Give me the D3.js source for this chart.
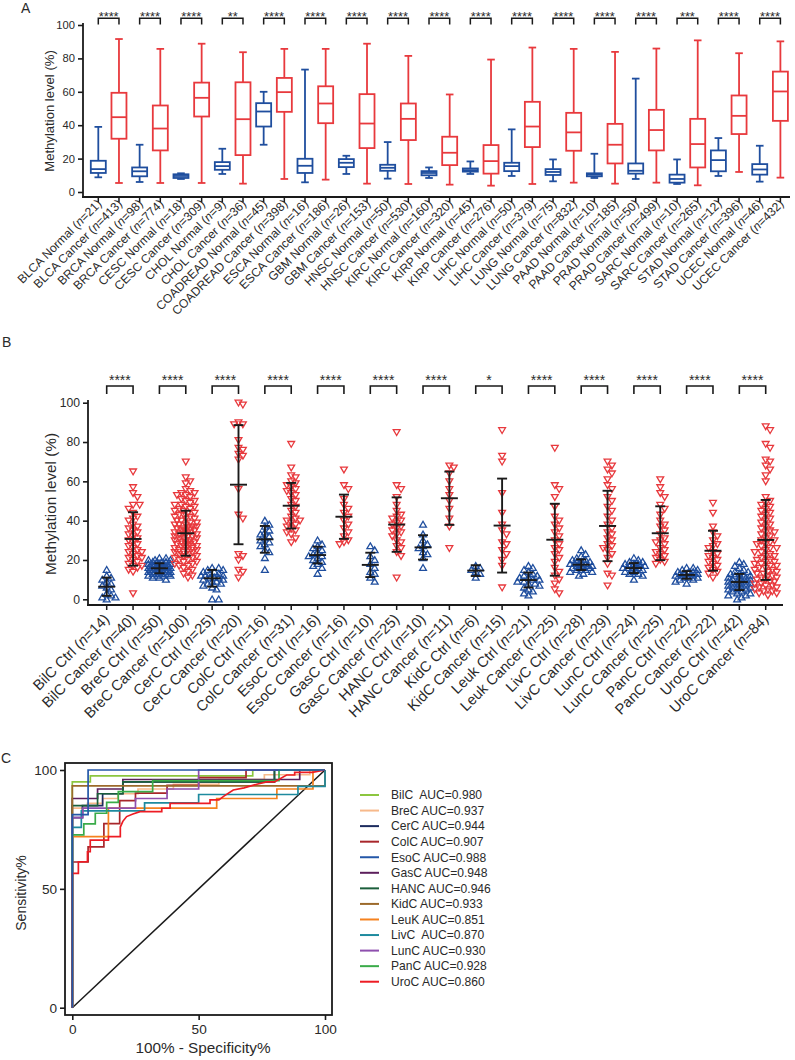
<!DOCTYPE html>
<html><head><meta charset="utf-8">
<script src="https://cdn.jsdelivr.net/npm/d3@7"></script>
<style>
body{margin:0;background:#fff;}
svg{display:block;font-family:"Liberation Sans",Arial,Helvetica,sans-serif;}
</style></head><body>
<svg id="chart" width="795" height="1060"></svg>
<script>
// ---------------- Panel A data ----------------
const typesA = ["BLCA","BRCA","CESC","CHOL","COADREAD","ESCA","GBM","HNSC","KIRC","KIRP","LIHC","LUNG","PAAD","PRAD","SARC","STAD","UCEC"];
const nNormalA = [21,98,18,9,45,16,26,50,160,45,50,75,10,50,10,12,46];
const nCancerA = [413,774,309,36,398,186,153,530,320,276,379,832,185,499,265,396,432];
const sigA = ["****","****","****","**","****","****","****","****","****","****","****","****","****","****","***","****","****"];
const normalMin = [8.8,6,7.8,10.8,28.3,5.8,10.8,8,8.4,10.8,9.6,6.4,8.4,7.8,4.8,9.6,6.2];
const normalQ1  = [11.4,9.4,8.4,13.3,39.2,11.4,14.9,12.7,10,12.2,12.5,10.2,9.4,11,5.6,12.4,10.4];
const normalMed = [13.7,12.4,9.6,15.5,48.2,15.7,17.5,14.5,11.4,13.1,15.5,12,10.4,12.7,7.8,19.1,13.5];
const normalQ3  = [18.7,14.7,10.6,17.9,53.2,19.9,19.7,16.3,12.5,14.1,17.5,13.7,11.2,17.1,10.4,24.9,16.7];
const normalMax = [39,28.3,11.2,25.9,60,73.3,21.7,29.9,14.7,18.3,37.5,19.5,22.9,67.9,19.5,32.3,27.7];
const cancerMin = [5.4,5.4,5.4,5,7.8,7.4,5,4.8,4.4,3.8,4.8,5.6,5,5.6,4,12,8.6];
const cancerQ1  = [31.9,24.9,45.2,22.1,48,41.2,26.3,31.1,16.1,11,26.9,24.7,17.1,24.9,14.7,34.7,42.6];
const cancerMed = [44.8,38,56.4,43.6,59.8,53,41,43.8,23.5,18.5,39.2,35.7,28.3,37.1,28.7,45.6,60.2];
const cancerQ3  = [59.4,51.8,65.5,65.7,68.3,63.3,58.6,53,33.1,28.1,54,47.4,40.8,49.2,43.8,57.8,72.1];
const cancerMax = [91.6,85.7,88.8,83.7,85.7,85.7,88.8,81.5,58.4,79.3,86.5,85.7,83.9,85.9,90.8,83.1,90.2];
const ticksA = [0,20,40,60,80,100];

// ---------------- Panel B data ----------------
const typesB = ["BilC","BreC","CerC","ColC","EsoC","GasC","HANC","KidC","Leuk","LivC","LunC","PanC","UroC"];
const nCtrlB = [14,50,25,16,16,10,10,6,21,28,24,22,42];
const nCancerB = [40,100,20,31,16,25,11,15,25,29,25,22,84];
const sigB = ["****","****","****","****","****","****","****","*","****","****","****","****","****"];
const meanCtrlB = [6.4,15.8,10.7,30.5,22.5,17.5,26.4,14.6,9.8,17.6,15.9,12.4,8.8];
const sdCtrlB = [4.65,2.55,4.25,6.8,4.25,6.2,6.2,2.75,3.8,2.7,2.55,1.95,4.1];
const meanCancerB = [30.7,33.6,58.3,47.6,42,38,51.4,37.5,30.3,37.3,33.6,24.7,30.2];
const sdCancerB = [13.6,11.45,30.3,11.6,11.25,13.85,13.55,23.9,18.3,17.9,13.7,10.15,20.35];
const bilcCtrl = [0,1,1,2,3,5,6,7,8,9,10,11,12,15];
const bilcCancer = [3,14,15,16,17,17,18,19,20,21,21,22,23,24,24,25,26,27,28,29,30,31,32,33,34,35,36,37,38,40,41,42,44,46,48,48,52,54,57,65];
const brecCtrl = [10,11,11,12,12,12,13,13,13,13,14,14,14,14,14,15,15,15,15,15,15,16,16,16,16,16,16,16,17,17,17,17,17,17,18,18,18,18,18,19,19,19,19,20,20,20,21,21,12,16];
const brecCancer = [11,12,13,14,15,16,17,17,18,18,19,19,20,20,21,21,22,22,23,23,24,24,24,25,25,25,26,26,26,27,27,27,28,28,28,29,29,29,30,30,30,31,31,31,32,32,32,33,33,33,34,34,34,35,35,35,36,36,36,37,37,37,38,38,38,39,39,40,40,41,41,42,42,43,43,44,44,45,45,46,46,47,47,48,48,49,50,50,51,52,53,53,54,54,55,56,59,60,62,70];
const cercCtrl = [0,0,5,6,7,8,8,9,9,10,10,11,11,11,12,12,12,13,13,14,14,15,15,16,16];
const cercCancer = [100,99,90,89,89,81,77,76,74,73,71,56,43,41,22,20,15,14,11,23];
const colcCtrl = [15,21,24,25,27,28,29,30,31,32,33,34,35,37,38,40];
const colcCancer = [29,31,33,34,35,36,37,38,39,40,40,41,42,44,45,47,48,50,51,53,54,55,56,57,58,59,60,62,63,67,79];
const esocCtrl = [13,16,17,18,19,20,21,22,22,23,24,25,26,27,28,30];
const esocCancer = [28,29,30,32,34,36,38,40,42,44,46,48,51,56,58,66];
const gascCtrl = [9,11,13,14,16,18,20,22,25,27];
const gascCancer = [11,22,24,26,27,29,30,32,33,34,35,36,37,38,39,40,41,42,43,45,48,52,56,58,85];
const hancCtrl = [16,21,23,24,26,27,28,30,33,38];
const hancCancer = [26,37,41,46,50,53,56,60,64,67,68];
const kidcCtrl = [11,13,14,15,16,17];
const kidcCancer = [6,17,20,23,25,28,29,33,38,35,44,54,70,73,86];
const leukCtrl = [2,3,4,5,6,7,8,8,9,9,10,10,11,11,12,12,13,14,15,16,17];
const leukCancer = [3,5,8,10,12,14,16,19,21,23,25,26,28,30,32,34,36,38,40,42,47,52,56,58,77];
const livcCtrl = [12,13,14,14,15,15,15,16,16,16,16,17,17,17,17,18,18,18,18,19,19,19,20,20,21,22,23,25];
const livcCancer = [7,12,13,18,21,23,25,26,27,28,30,31,33,34,36,38,40,42,45,47,50,52,56,58,61,64,66,68,70];
const luncCtrl = [10,12,13,13,14,14,15,15,15,16,16,16,16,17,17,17,17,18,18,18,19,19,20,21];
const luncCancer = [18,19,20,21,22,23,24,25,26,28,29,30,31,33,35,37,38,40,43,46,48,52,54,57,61];
const pancCtrl = [8,9,10,10,11,11,11,12,12,12,12,13,13,13,13,14,14,14,15,15,16,16];
const pancCancer = [11,13,14,15,16,17,18,19,20,21,22,23,24,26,27,28,30,32,34,37,44,49];
const urocCtrl = [0,1,2,2,3,3,4,4,5,5,5,6,6,6,7,7,7,8,8,8,8,9,9,9,10,10,10,11,11,11,12,12,12,13,13,14,14,15,16,17,18,19];
const urocCancer = [88,86,79,77,71,70,68,66,63,60,52,50,49,48,47,46,45,44,43,42,41,40,39,38,37,36,35,34,34,33,32,31,30,30,29,28,28,27,26,26,25,24,24,23,22,22,21,20,20,19,19,18,18,17,17,16,16,15,15,14,14,13,13,12,12,11,11,10,10,9,9,8,8,7,7,6,6,5,5,4,4,3,3,2];
const ctrlValuesB = [bilcCtrl,brecCtrl,cercCtrl,colcCtrl,esocCtrl,gascCtrl,hancCtrl,kidcCtrl,leukCtrl,livcCtrl,luncCtrl,pancCtrl,urocCtrl];
const cancerValuesB = [bilcCancer,brecCancer,cercCancer,colcCancer,esocCancer,gascCancer,hancCancer,kidcCancer,leukCancer,livcCancer,luncCancer,pancCancer,urocCancer];

// ---------------- Panel C data ----------------
const rocNames = ["BilC","BreC","CerC","ColC","EsoC","GasC","HANC","KidC","LeuK","LivC","LunC","PanC","UroC"];
const rocLabels = ["BilC  AUC=0.980","BreC AUC=0.937","CerC AUC=0.944","ColC AUC=0.907","EsoC AUC=0.988","GasC AUC=0.948","HANC AUC=0.946","KidC AUC=0.933","LeuK AUC=0.851","LivC  AUC=0.870","LunC AUC=0.930","PanC AUC=0.928","UroC AUC=0.860"];
const rocColors = ["#8cc63f","#f7b98b","#1c2b5e","#a8262b","#2457a8","#5c1f5c","#1b5e3b","#9c6a2b","#f5821f","#1e8a9e","#8e4fae","#3aab49","#ed1c24"];
const rocBilC = [[0,0],[0,95],[7.14,95],[7.14,97.5],[71.4,97.5],[71.4,100],[100,100]];
const rocBreC = [[0,0],[0,84],[6,84],[6,86],[12,86],[12,88],[18,88],[18,90],[26,90],[26,92],[40,92],[40,94],[58,94],[58,96],[76,96],[76,98],[94,98],[94,100],[100,100]];
const rocCerC = [[0,0],[0,80],[4,80],[4,85],[12,85],[12,90],[20,90],[20,95],[80,95],[80,100],[100,100]];
const rocColC = [[0,0],[0,61.3],[6.25,61.3],[6.25,67.7],[12.5,67.7],[12.5,77.4],[18.75,77.4],[18.75,87.1],[25,87.1],[25,90.3],[37.5,90.3],[37.5,93.5],[50,93.5],[50,96.8],[68.75,96.8],[68.75,100],[100,100]];
const rocEsoC = [[0,0],[0,81.25],[6.25,81.25],[6.25,100],[100,100]];
const rocGasC = [[0,0],[0,88],[10,88],[10,92],[20,92],[20,96],[90,96],[90,100],[100,100]];
const rocHANC = [[0,0],[0,85],[10,85],[10,90],[20,90],[20,95],[80,95],[80,100],[100,100]];
const rocKidC = [[0,0],[0,93.3],[100,93.3],[100,100]];
const rocLeuK = [[0,0],[0,72],[14.29,72],[14.29,84],[57.14,84],[57.14,88],[80.95,88],[80.95,92],[95.24,92],[95.24,100],[100,100]];
const rocLivC = [[0,0],[0,75.9],[3.57,75.9],[3.57,82.8],[28.6,82.8],[28.6,86.2],[50,86.2],[50,89.7],[89.3,89.7],[89.3,93.1],[100,93.1],[100,100]];
const rocLunC = [[0,0],[0,80],[4.17,80],[4.17,84],[25,84],[25,88],[37.5,88],[37.5,92],[50,92],[50,100],[100,100]];
const rocPanC = [[0,0],[0,72.7],[4.55,72.7],[4.55,77.3],[9.09,77.3],[9.09,81.8],[13.6,81.8],[13.6,86.4],[18.2,86.4],[18.2,90.9],[31.8,90.9],[31.8,95.5],[81.8,95.5],[81.8,100],[100,100]];
const rocUroC = [[0,0],[0,56.5],[2.4,56.5],[2.4,61.4],[6,61.4],[6,65.6],[7.1,65.6],[7.1,70.5],[14.3,70.5],[14.3,72],[19,72],[19,76],[20,78.4],[21.5,80.4],[24,81.5],[26.8,82.5],[35.4,82.5],[35.4,83.9],[38.7,83.9],[38.7,86],[54.5,86],[54.5,87.4],[58,87.4],[60,89],[63.7,91.6],[68,92.5],[73,94],[76.9,95],[80,95],[84.8,97.9],[88,97.9],[88,99],[95,99],[100,100]];
const rocData = [rocBilC,rocBreC,rocCerC,rocColC,rocEsoC,rocGasC,rocHANC,rocKidC,rocLeuK,rocLivC,rocLunC,rocPanC,rocUroC];

// ---------------- drawing ----------------
const svg = d3.select("#chart");
const BLUE = "#1f4e9e", RED = "#e8393d", INK = "#1a1a1a", TXT = "#2a2a2a";
const FONT = "Liberation Sans, Arial, sans-serif";

function panelLetter(t, x, y){ svg.append("text").attr("x",x).attr("y",y).attr("font-size",14).attr("fill",TXT).text(t); }

function xLabel(g, x, y, main, n, fs){
  const t = g.append("text").attr("transform",`translate(${x},${y}) rotate(-45)`)
    .attr("text-anchor","end").attr("font-size",fs).attr("fill",TXT);
  t.append("tspan").text(main + " (");
  t.append("tspan").attr("font-style","italic").text("n");
  t.append("tspan").text("=" + n + ")");
}

// ===== Panel A =====
panelLetter("A", 21, 13);
const labelsA = [];
typesA.forEach((t,i)=>{ labelsA.push(t+" Normal"); labelsA.push(t+" Cancer"); });
const xA = d3.scalePoint().domain(labelsA).range([98.3, 780.4]);
const yA = d3.scaleLinear().domain([0,100]).range([192,25]);
const gA = svg.append("g");
const axA = gA.append("g").attr("transform","translate(83,0)")
  .call(d3.axisLeft(yA).tickValues(ticksA).tickSize(5).tickPadding(3));
axA.select(".domain").remove();
axA.selectAll("line").attr("stroke",INK).attr("stroke-width",1.6);
axA.selectAll("text").attr("font-size",11.2).attr("fill",TXT).attr("font-family",FONT);
gA.append("line").attr("x1",83).attr("x2",83).attr("y1",23).attr("y2",197).attr("stroke",INK).attr("stroke-width",1.8);
gA.append("line").attr("x1",82).attr("x2",790).attr("y1",197).attr("y2",197).attr("stroke",INK).attr("stroke-width",1.8);
labelsA.forEach(l=>{
  gA.append("line").attr("x1",xA(l)).attr("x2",xA(l)).attr("y1",197).attr("y2",202).attr("stroke",INK).attr("stroke-width",1.5);
});
gA.append("text").attr("transform","translate(54,111) rotate(-90)").attr("text-anchor","middle")
  .attr("font-size",13.1).attr("fill",TXT).text("Methylation level (%)");
function drawBox(g, x, stats, color, yS){
  const [mn,q1,md,q3,mx] = stats;
  const bw = 7.5, cw = 3.8;
  const s = g.append("g").attr("stroke",color).attr("stroke-width",1.8).attr("fill","none");
  s.append("line").attr("x1",x).attr("x2",x).attr("y1",yS(mx)).attr("y2",yS(q3));
  s.append("line").attr("x1",x).attr("x2",x).attr("y1",yS(q1)).attr("y2",yS(mn));
  s.append("line").attr("x1",x-cw).attr("x2",x+cw).attr("y1",yS(mx)).attr("y2",yS(mx));
  s.append("line").attr("x1",x-cw).attr("x2",x+cw).attr("y1",yS(mn)).attr("y2",yS(mn));
  s.append("rect").attr("x",x-bw).attr("width",2*bw).attr("y",yS(q3)).attr("height",Math.max(0.5,yS(q1)-yS(q3)));
  s.append("line").attr("x1",x-bw).attr("x2",x+bw).attr("y1",yS(md)).attr("y2",yS(md));
}
typesA.forEach((t,i)=>{
  const xn = xA(t+" Normal"), xc = xA(t+" Cancer");
  drawBox(gA, xn, [normalMin[i],normalQ1[i],normalMed[i],normalQ3[i],normalMax[i]], BLUE, yA);
  drawBox(gA, xc, [cancerMin[i],cancerQ1[i],cancerMed[i],cancerQ3[i],cancerMax[i]], RED, yA);
  gA.append("path").attr("d",`M${xn},24.5V18.3H${xc}V24.5`).attr("fill","none").attr("stroke",INK).attr("stroke-width",1.5);
  gA.append("text").attr("x",(xn+xc)/2).attr("y",21).attr("text-anchor","middle").attr("font-size",12.8).attr("fill",TXT).text(sigA[i]);
  xLabel(gA, xn+4, 204.5, t+" Normal", nNormalA[i], 12.2);
  xLabel(gA, xc+4, 204.5, t+" Cancer", nCancerA[i], 12.2);
});

// ===== Panel B =====
panelLetter("B", 2, 347);
const labelsB = [];
typesB.forEach(t=>{ labelsB.push(t+" Ctrl"); labelsB.push(t+" Cancer"); });
const xB = d3.scalePoint().domain(labelsB).range([106.7, 765.7]);
const yB = d3.scaleLinear().domain([0,100]).range([599.3,402.7]);
const gB = svg.append("g");
const axB = gB.append("g").attr("transform","translate(88,0)")
  .call(d3.axisLeft(yB).tickValues(ticksA).tickSize(5).tickPadding(3));
axB.select(".domain").remove();
axB.selectAll("line").attr("stroke",INK).attr("stroke-width",1.6);
axB.selectAll("text").attr("font-size",12.2).attr("fill",TXT).attr("font-family",FONT);
gB.append("line").attr("x1",88).attr("x2",88).attr("y1",400).attr("y2",605).attr("stroke",INK).attr("stroke-width",1.8);
gB.append("line").attr("x1",87).attr("x2",783).attr("y1",605).attr("y2",605).attr("stroke",INK).attr("stroke-width",1.8);
labelsB.forEach(l=>{
  gB.append("line").attr("x1",xB(l)).attr("x2",xB(l)).attr("y1",605).attr("y2",610).attr("stroke",INK).attr("stroke-width",1.5);
});
gB.append("text").attr("transform","translate(56,504) rotate(-90)").attr("text-anchor","middle")
  .attr("font-size",15.3).attr("fill",TXT).text("Methylation level (%)");

function swarm(vals, yS, r, step, maxOff){
  const pts = vals.map(v=>({v, y:yS(v)})).sort((a,b)=>a.y-b.y);
  const placed = [];
  pts.forEach(p=>{
    let found = null, alt = 0, altScore = -1;
    const kmax = Math.floor(maxOff/step);
    outer:
    for(let k=0;k<=kmax;k++){
      const cands = k===0 ? [0] : [k*step, -k*step];
      for(const dx of cands){
        let minD = Infinity;
        for(const q of placed){
          if(Math.abs(q.y-p.y) < r){ const d = Math.hypot(q.dx-dx, q.y-p.y); if(d<minD) minD=d; }
        }
        if(minD >= r){ found = dx; break outer; }
        if(minD > altScore){ altScore = minD; alt = dx; }
      }
    }
    p.dx = found!==null ? found : alt;
    placed.push(p);
  });
  return pts;
}
const triUp = "M0,-3.3L3.4,2.5L-3.4,2.5Z";
const triDown = "M0,3.3L3.4,-2.5L-3.4,-2.5Z";
function drawGroup(x, vals, mean, sd, color, shape){
  const pts = swarm(vals, yB, 4.6, 2.2, 11);
  gB.append("g").selectAll("path").data(pts).join("path")
    .attr("d",shape).attr("transform",d=>`translate(${x+d.dx},${d.y})`)
    .attr("fill","none").attr("stroke",color).attr("stroke-width",1.3);
  const e = gB.append("g").attr("stroke",INK).attr("stroke-width",1.9);
  e.append("line").attr("x1",x).attr("x2",x).attr("y1",yB(mean+sd)).attr("y2",yB(Math.max(0,mean-sd)));
  e.append("line").attr("x1",x-5).attr("x2",x+5).attr("y1",yB(mean+sd)).attr("y2",yB(mean+sd));
  e.append("line").attr("x1",x-5).attr("x2",x+5).attr("y1",yB(Math.max(0,mean-sd))).attr("y2",yB(Math.max(0,mean-sd)));
  e.append("line").attr("x1",x-8.5).attr("x2",x+8.5).attr("y1",yB(mean)).attr("y2",yB(mean));
}
typesB.forEach((t,i)=>{
  const xn = xB(t+" Ctrl"), xc = xB(t+" Cancer");
  drawGroup(xn, ctrlValuesB[i], meanCtrlB[i], sdCtrlB[i], BLUE, triUp);
  drawGroup(xc, cancerValuesB[i], meanCancerB[i], sdCancerB[i], RED, triDown);
  gB.append("path").attr("d",`M${xn},394V386H${xc}V394`).attr("fill","none").attr("stroke",INK).attr("stroke-width",1.6);
  gB.append("text").attr("x",(xn+xc)/2).attr("y",385).attr("text-anchor","middle").attr("font-size",14).attr("fill",TXT).text(sigB[i]);
  xLabel(gB, xn+3.5, 620, t+" Ctrl", nCtrlB[i], 14.7);
  xLabel(gB, xc+3.5, 620, t+" Cancer", nCancerB[i], 14.7);
});

// ===== Panel C =====
panelLetter("C", 1, 763);
const xC = d3.scaleLinear().domain([0,100]).range([72.3,325]);
const yC = d3.scaleLinear().domain([0,100]).range([1007.7,770]);
const gC = svg.append("g");
const axCx = gC.append("g").attr("transform","translate(0,1015)")
  .call(d3.axisBottom(xC).tickValues([0,50,100]).tickSize(5).tickPadding(4));
axCx.select(".domain").remove();
axCx.selectAll("line").attr("stroke",INK).attr("stroke-width",1.6);
axCx.selectAll("text").attr("font-size",13.6).attr("fill",TXT).attr("font-family",FONT);
const axCy = gC.append("g").attr("transform","translate(65,0)")
  .call(d3.axisLeft(yC).tickValues([0,50,100]).tickSize(5).tickPadding(3));
axCy.select(".domain").remove();
axCy.selectAll("line").attr("stroke",INK).attr("stroke-width",1.6);
axCy.selectAll("text").attr("font-size",13.6).attr("fill",TXT).attr("font-family",FONT);
gC.append("rect").attr("x",65).attr("y",763).attr("width",267).attr("height",252).attr("fill","none").attr("stroke",INK).attr("stroke-width",1.8);
gC.append("text").attr("transform","translate(26,893) rotate(-90)").attr("text-anchor","middle").attr("font-size",14).attr("fill",TXT).text("Sensitivity%");
gC.append("text").attr("x",203).attr("y",1053).attr("text-anchor","middle").attr("font-size",15.3).attr("fill",TXT).text("100% - Specificity%");
gC.append("line").attr("x1",xC(0)).attr("y1",yC(0)).attr("x2",xC(100)).attr("y2",yC(100)).attr("stroke",INK).attr("stroke-width",1.5);
const lineC = d3.line().x(d=>xC(d[0])).y(d=>yC(d[1]));
const order = [0,1,2,3,5,6,7,8,9,10,11,12,4];
order.forEach(i=>{
  gC.append("path").attr("d",lineC(rocData[i])).attr("fill","none").attr("stroke",rocColors[i]).attr("stroke-width",1.7);
});
rocNames.forEach((nm,i)=>{
  const y = 795 + i*15.56;
  gC.append("line").attr("x1",360).attr("x2",379).attr("y1",y).attr("y2",y).attr("stroke",rocColors[i]).attr("stroke-width",2);
  gC.append("text").attr("x",391).attr("y",y+4.3).attr("font-size",12.1).attr("fill",TXT).style("white-space","pre").text(rocLabels[i]);
});
</script>
</body></html>
